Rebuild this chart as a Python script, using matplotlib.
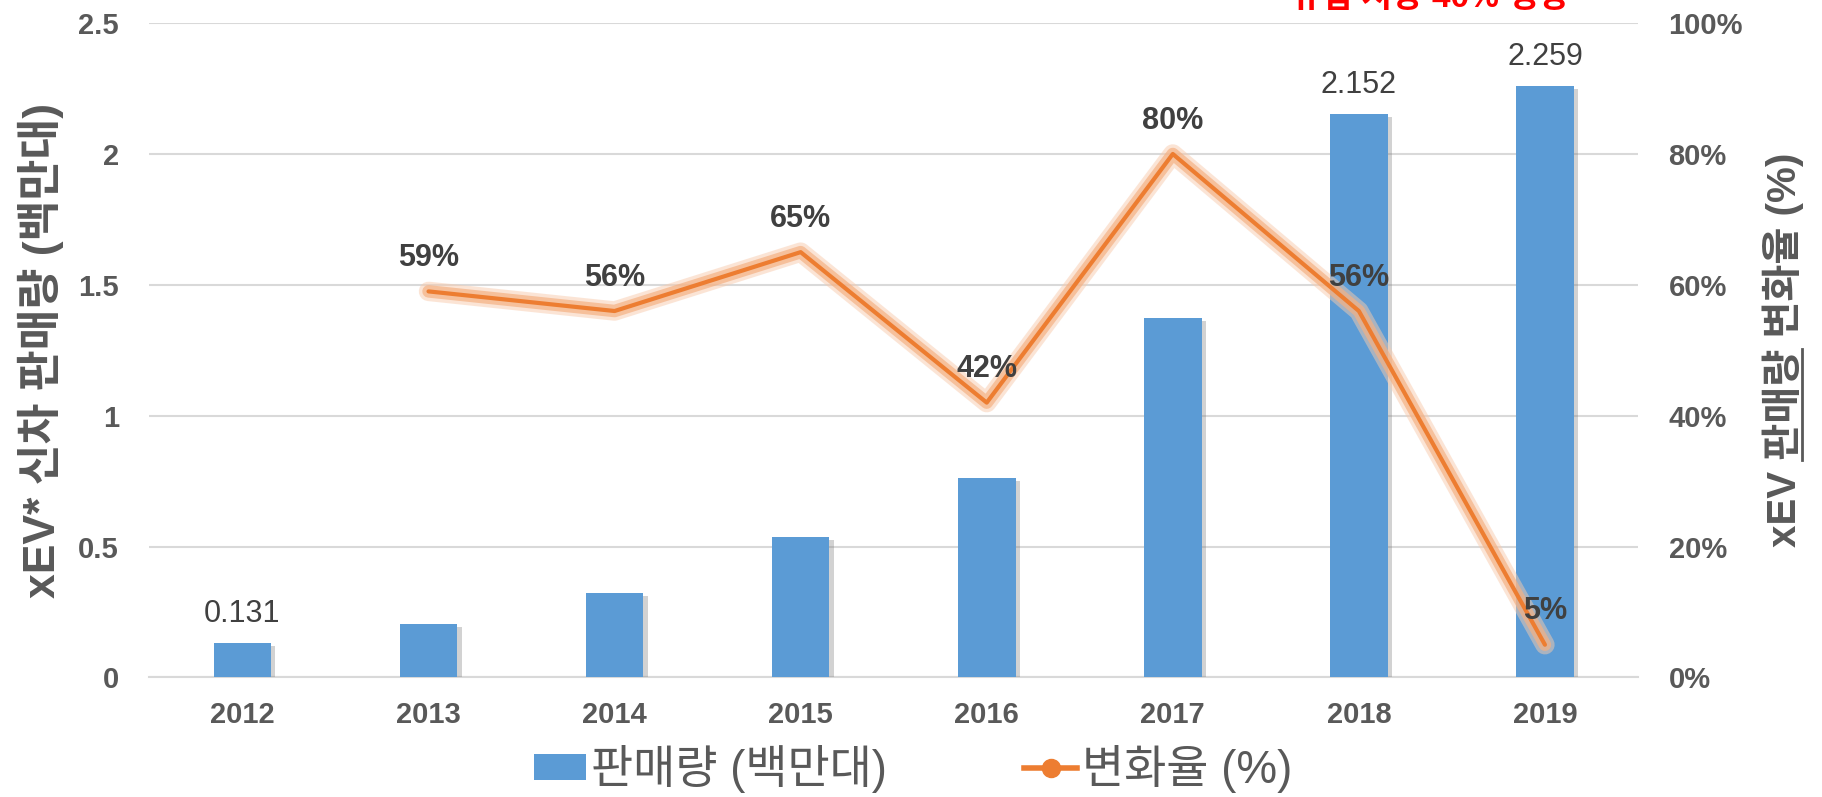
import matplotlib
matplotlib.use("Agg")
import matplotlib.pyplot as plt
import matplotlib.patheffects as pe
from matplotlib.lines import Line2D
from matplotlib.patches import Patch
from matplotlib.ticker import FuncFormatter

plt.rcParams['font.family'] = ['Liberation Sans', 'Noto Sans CJK KR', 'DejaVu Sans']

years = ['2012', '2013', '2014', '2015', '2016', '2017', '2018', '2019']
sales = [0.131, 0.204, 0.323, 0.536, 0.762, 1.374, 2.152, 2.259]
growth = [None, 0.59, 0.56, 0.65, 0.42, 0.80, 0.56, 0.05]
sales_labels = {0: '0.131', 6: '2.152', 7: '2.259'}

gray = '#595959'
dark = '#404040'
blue = '#5B9BD5'
orange = '#ED7D31'

fig = plt.figure(figsize=(18.22, 7.97), dpi=100)
ax = fig.add_axes([0.082, 0.150, 0.817, 0.821])
ax2 = ax.twinx()

x = list(range(len(years)))
bars = ax.bar(x, sales, width=0.31, color=blue, zorder=3)
for b in bars:
    b.set_path_effects([pe.SimplePatchShadow(offset=(3, -2), alpha=0.35, shadow_rgbFace='#7f7f7f'),
                        pe.Normal()])
for i, s in sales_labels.items():
    ax.annotate(s, (i, sales[i]), xytext=(0, 21), textcoords='offset points',
                ha='center', va='center', fontsize=22, color=dark)

ax.set_xlim(-0.5, 7.5)
ax.set_ylim(0, 2.5)
ax.set_yticks([0, 0.5, 1, 1.5, 2, 2.5])
ax.set_yticklabels(['0', '0.5', '1', '1.5', '2', '2.5'])
ax.yaxis.grid(True, color='#D9D9D9', lw=1.5, zorder=0)
ax.set_axisbelow(True)
ax.set_xticks(x)
ax.set_xticklabels(years)
for sp in ['top', 'right', 'left']:
    ax.spines[sp].set_visible(False)
    ax2.spines[sp].set_visible(False)
ax.spines['bottom'].set_color('#D9D9D9')
ax.spines['bottom'].set_linewidth(1.5)
ax2.spines['bottom'].set_visible(False)
ax.tick_params(axis='both', length=0, labelsize=21, colors=gray)
ax.tick_params(axis='y', pad=22)
ax.tick_params(axis='x', pad=17)
for t in ax.get_xticklabels() + ax.get_yticklabels():
    t.set_fontweight('bold')
ax.set_ylabel('xEV* 신차 판매량 (백만대)', fontsize=32, fontweight='bold', color=gray, labelpad=10)

gx = [i for i, g in zip(x, growth) if g is not None]
gy = [g for g in growth if g is not None]
ax2.plot(gx, gy, color=orange, lw=3, solid_capstyle='round', zorder=5,
         path_effects=[pe.Stroke(linewidth=14, foreground='#F8CBAD', alpha=0.5),
                       pe.Stroke(linewidth=9, foreground='#F4B183', alpha=0.7),
                       pe.Normal()])
for i, g in zip(gx, gy):
    ax2.annotate(f'{round(g * 100)}%', (i, g), xytext=(0, 24), textcoords='offset points',
                 ha='center', va='center', fontsize=22, fontweight='bold', color=dark, zorder=6)
ax2.set_ylim(0, 1.0)
ax2.set_yticks([0, 0.2, 0.4, 0.6, 0.8, 1.0])
ax2.yaxis.set_major_formatter(FuncFormatter(lambda v, p: f'{round(v * 100)}%'))
ax2.tick_params(axis='y', length=0, labelsize=21, colors=gray, pad=22)
for t in ax2.get_yticklabels():
    t.set_fontweight('bold')
ylab2 = ax2.set_ylabel('xEV 판매량 변화율 (%)', fontsize=29, fontweight='bold', color=gray, labelpad=14)

fig.text(0.785, 1 - 7 / 797, '유럽 시장 40% 성장', fontsize=24, fontweight='bold',
         color='#FF0000', ha='center', va='baseline')

handles = [Patch(facecolor=blue), Line2D([0], [0], color=orange, lw=4, marker='o', markersize=13)]
leg = fig.legend(handles, ['판매량 (백만대)', '변화율 (%)'], loc='center', bbox_to_anchor=(0.501, 0.035),
                 ncol=2, frameon=False, fontsize=33, handlelength=1.15, handletextpad=0.1,
                 columnspacing=3.0, handleheight=0.5)
for t in leg.get_texts():
    t.set_color(gray)

# underline under "판매량" in the right axis label
fig.canvas.draw()
r = fig.canvas.get_renderer()
bb = ylab2.get_window_extent(r)
tmp = fig.text(0, 0, 'xEV ', fontsize=29, fontweight='bold')
w1 = tmp.get_window_extent(r).width
tmp.set_text('xEV 판매량')
w2 = tmp.get_window_extent(r).width
tmp.remove()
W, H = fig.bbox.width, fig.bbox.height
ux = (bb.x1 - 2) / W
fig.add_artist(Line2D([ux, ux], [(bb.y0 + w1) / H, (bb.y0 + w2) / H], color=gray, lw=2))

fig.savefig('out.png', dpi=100)
